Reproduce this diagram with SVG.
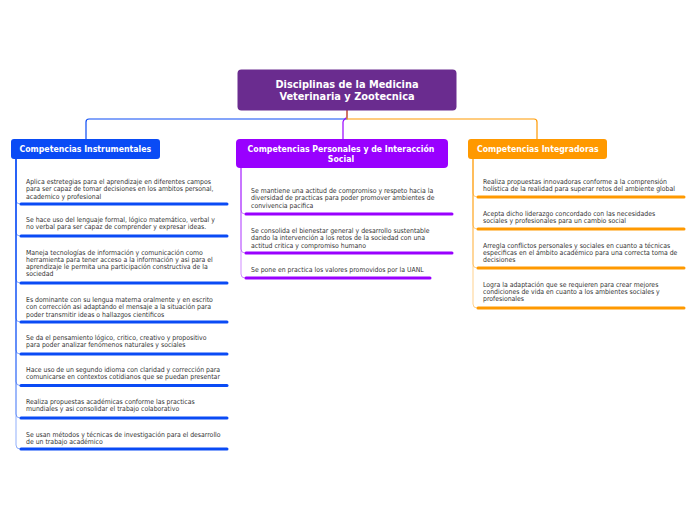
<svg xmlns="http://www.w3.org/2000/svg" width="696" height="520" viewBox="0 0 696 520">
<style>
.t{font-family:"DejaVu Sans Condensed","DejaVu Sans",sans-serif;font-stretch:condensed;font-size:6.85px;fill:#333333}
.h{font-family:"DejaVu Sans Condensed","DejaVu Sans",sans-serif;font-stretch:condensed;font-weight:bold;font-size:8.7px;fill:#ffffff}
.ti{font-family:"DejaVu Sans Condensed","DejaVu Sans",sans-serif;font-stretch:condensed;font-weight:bold;font-size:10.9px;fill:#ffffff}
.c{fill:none;stroke-width:1.2}
.bb{stroke:#0a4bf5;stroke-width:3;stroke-linecap:round}
.pb{stroke:#9900ff;stroke-width:3;stroke-linecap:round}
.ob{stroke:#ff9900;stroke-width:3;stroke-linecap:round}
.bl{fill:none;stroke:#0a4bf5;stroke-opacity:0.45;stroke-width:1}
.pl{fill:none;stroke:#9900ff;stroke-opacity:0.45;stroke-width:1}
.ol{fill:none;stroke:#ff9900;stroke-opacity:0.45;stroke-width:1}
</style>
<rect width="696" height="520" fill="#ffffff"/>
<g id="connectors">
<path class="c" stroke="#0a4bf5" d="M347,110 V119 H89 Q86,119 86,122 V139"/>
<path class="c" stroke="#9900ff" d="M347,110 V116 C347,119 343,119 343,122 V139"/>
<path class="c" stroke="#ff9900" d="M347,110 V119 H534 Q537,119 537,122 V139"/>
<path class="bl" d="M16,159 V200 Q16,204 20,204"/>
<path class="bl" d="M16,159 V232 Q16,236 20,236"/>
<path class="bl" d="M16,159 V279 Q16,283 20,283"/>
<path class="bl" d="M16,159 V318 Q16,322 20,322"/>
<path class="bl" d="M16,159 V350 Q16,354 20,354"/>
<path class="bl" d="M16,159 V381.5 Q16,385.5 20,385.5"/>
<path class="bl" d="M16,159 V414 Q16,418 20,418"/>
<path class="bl" d="M16,159 V445 Q16,449 20,449"/>
<path class="pl" d="M241,168 V210 Q241,214 245,214"/>
<path class="pl" d="M241,168 V249 Q241,253 245,253"/>
<path class="pl" d="M241,168 V274 Q241,278 245,278"/>
<path class="ol" d="M473,159 V193 Q473,197 477,197"/>
<path class="ol" d="M473,159 V225 Q473,229 477,229"/>
<path class="ol" d="M473,159 V264 Q473,268 477,268"/>
<path class="ol" d="M473,159 V304 Q473,308 477,308"/>
</g>
<g id="root">
<rect x="237.5" y="69.5" width="219" height="41" rx="4" fill="#6a2c8f"/>
<text class="ti" x="347" y="87.5" text-anchor="middle">Disciplinas de la Medicina</text>
<text class="ti" x="347" y="99.5" text-anchor="middle">Veterinaria y Zootecnica</text>
</g>
<g id="instrumentales">
<rect x="11" y="139" width="149" height="20" rx="3" fill="#0a4bf5"/>
<text class="h" x="19.5" y="152">Competencias Instrumentales</text>
</g>
<g id="personales">
<rect x="236" y="139" width="212" height="29" rx="4" fill="#9900ff"/>
<text class="h" x="341" y="152" text-anchor="middle">Competencias Personales y de Interacción</text>
<text class="h" x="341" y="162" text-anchor="middle">Social</text>
</g>
<g id="integradoras">
<rect x="468" y="139" width="139" height="20" rx="3" fill="#ff9900"/>
<text class="h" x="477" y="152">Competencias Integradoras</text>
</g>
<g id="i1">
<text class="t" x="26" y="184"><tspan x="26">Aplica estretegias para el aprendizaje en diferentes campos</tspan><tspan x="26" dy="7.3">para ser capaz de tomar decisiones en los ambitos personal,</tspan><tspan x="26" dy="7.3">academico y profesional</tspan></text>
<line class="bb" x1="21" y1="204" x2="227" y2="204"/>
</g>
<g id="i2">
<text class="t" x="26" y="222"><tspan x="26">Se hace uso del lenguaje formal, lógico matemático, verbal y</tspan><tspan x="26" dy="7.3">no verbal para ser capaz de comprender y expresar ideas.</tspan></text>
<line class="bb" x1="21" y1="236" x2="227" y2="236"/>
</g>
<g id="i3">
<text class="t" x="26" y="254.5"><tspan x="26">Maneja tecnologías de información y comunicación como</tspan><tspan x="26" dy="7.3">herramienta para tener acceso a la información y asi para el</tspan><tspan x="26" dy="7.3">aprendizaje le permita una participación constructiva de la</tspan><tspan x="26" dy="7.3">sociedad</tspan></text>
<line class="bb" x1="21" y1="283" x2="227" y2="283"/>
</g>
<g id="i4">
<text class="t" x="26" y="302"><tspan x="26">Es dominante con su lengua materna oralmente y en escrito</tspan><tspan x="26" dy="7.3">con corrección asi adaptando el mensaje a la situación para</tspan><tspan x="26" dy="7.3">poder transmitir ideas o hallazgos cientificos</tspan></text>
<line class="bb" x1="21" y1="322" x2="227" y2="322"/>
</g>
<g id="i5">
<text class="t" x="26" y="340"><tspan x="26">Se da el pensamiento lógico, critico, creativo y propositivo</tspan><tspan x="26" dy="7.3">para poder analizar fenómenos naturales y sociales</tspan></text>
<line class="bb" x1="21" y1="354" x2="227" y2="354"/>
</g>
<g id="i6">
<text class="t" x="26" y="372"><tspan x="26">Hace uso de un segundo idioma con claridad y corrección para</tspan><tspan x="26" dy="7.3">comunicarse en contextos cotidianos que se puedan presentar</tspan></text>
<line class="bb" x1="21" y1="385.5" x2="227" y2="385.5"/>
</g>
<g id="i7">
<text class="t" x="26" y="404"><tspan x="26">Realiza propuestas académicas conforme las practicas</tspan><tspan x="26" dy="7.3">mundiales y asi consolidar el trabajo colaborativo</tspan></text>
<line class="bb" x1="21" y1="418" x2="227" y2="418"/>
</g>
<g id="i8">
<text class="t" x="26" y="437"><tspan x="26">Se usan métodos y técnicas de investigación para el desarrollo</tspan><tspan x="26" dy="7.3">de un trabajo académico</tspan></text>
<line class="bb" x1="21" y1="449" x2="227" y2="449"/>
</g>
<g id="p1">
<text class="t" x="251" y="193"><tspan x="251">Se mantiene una actitud de compromiso y respeto hacia la</tspan><tspan x="251" dy="7.3">diversidad de practicas para poder promover ambientes de</tspan><tspan x="251" dy="7.3">convivencia pacifica</tspan></text>
<line class="pb" x1="246" y1="214" x2="452" y2="214"/>
</g>
<g id="p2">
<text class="t" x="251" y="233"><tspan x="251">Se consolida el bienestar general y desarrollo sustentable</tspan><tspan x="251" dy="7.3">dando la intervención a los retos de la sociedad con una</tspan><tspan x="251" dy="7.3">actitud critica y compromiso humano</tspan></text>
<line class="pb" x1="246" y1="253" x2="452" y2="253"/>
</g>
<g id="p3">
<text class="t" x="251" y="272">Se pone en practica los valores promovidos por la UANL</text>
<line class="pb" x1="246" y1="278" x2="430" y2="278"/>
</g>
<g id="g1">
<text class="t" x="483" y="184"><tspan x="483">Realiza propuestas innovadoras conforme a la comprensión</tspan><tspan x="483" dy="7.3">holística de la realidad para superar retos del ambiente global</tspan></text>
<line class="ob" x1="478" y1="197" x2="684" y2="197"/>
</g>
<g id="g2">
<text class="t" x="483" y="216"><tspan x="483">Acepta dicho liderazgo concordado con las necesidades</tspan><tspan x="483" dy="7.3">sociales y profesionales para un cambio social</tspan></text>
<line class="ob" x1="478" y1="229" x2="684" y2="229"/>
</g>
<g id="g3">
<text class="t" x="483" y="247.5"><tspan x="483">Arregla conflictos personales y sociales en cuanto a técnicas</tspan><tspan x="483" dy="7.3">especificas en el ámbito académico para una correcta toma de</tspan><tspan x="483" dy="7.3">decisiones</tspan></text>
<line class="ob" x1="478" y1="268" x2="684" y2="268"/>
</g>
<g id="g4">
<text class="t" x="483" y="286.5"><tspan x="483">Logra la adaptación que se requieren para crear mejores</tspan><tspan x="483" dy="7.3">condiciones de vida en cuanto a los ambientes sociales y</tspan><tspan x="483" dy="7.3">profesionales</tspan></text>
<line class="ob" x1="478" y1="308" x2="684" y2="308"/>
</g>
</svg>
